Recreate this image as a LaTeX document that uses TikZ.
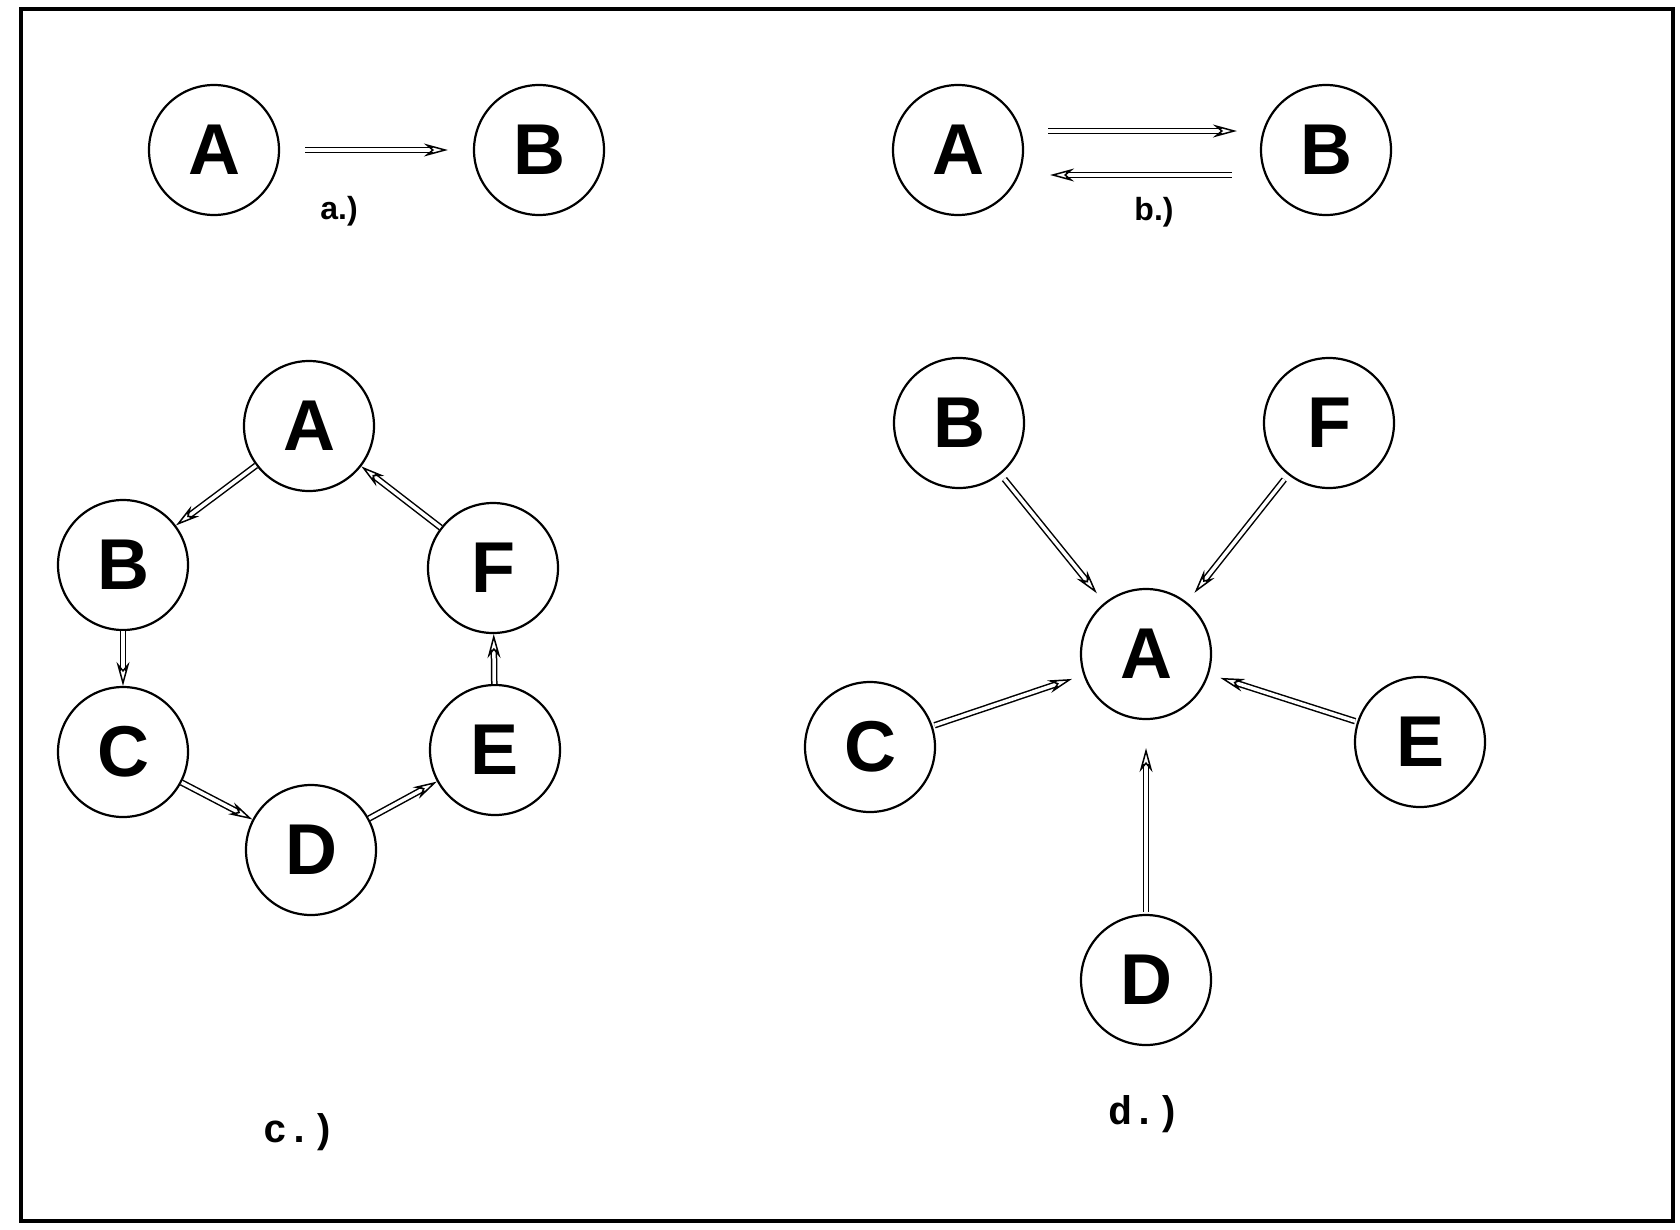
\documentclass[tikz,border=0pt]{standalone}
\usepackage{fontspec}
\setsansfont{Liberation Sans}
\setmonofont{Liberation Mono}
\usetikzlibrary{arrows.meta}
\begin{document}
\begin{tikzpicture}[x=1pt,y=-1pt,
  vtx/.style={circle,draw,line width=2.2pt,minimum size=130pt,inner sep=0pt,
    font=\fontsize{72}{72}\selectfont\sffamily\bfseries},
  conn/.style={draw,double=white,double distance=3.5pt,line width=1.5pt,
    -{Stealth[open,length=24pt,width=13pt,line width=1.5pt]}},
  sublab/.style={font=\fontsize{32}{32}\selectfont\sffamily\bfseries},
  monolab/.style={font=\fontsize{40}{40}\selectfont\ttfamily\bfseries}]
\useasboundingbox (0,0) rectangle (1680,1229);
\fill[white] (0,0) rectangle (1680,1229);
\draw[line width=4pt] (21,9) rectangle (1673,1221);
% a)
\node[vtx] (aA) at (214,150) {A};
\node[vtx] (aB) at (539,150) {B};
\draw[conn,shorten <=25pt,shorten >=25pt] (aA) -- (aB);
\node[sublab] (la) at (339,211) {a.)};
% b)
\node[vtx] (bA) at (958,150) {A};
\node[vtx] (bB) at (1326,150) {B};
\draw[conn,shorten <=24pt,shorten >=23pt] ([yshift=19pt]bA.east) -- ([yshift=19pt]bB.west);
\draw[conn,shorten <=28pt,shorten >=26pt] ([yshift=-25pt]bB.west) -- ([yshift=-25pt]bA.east);
\node[sublab] (lb) at (1154,212) {b.)};
% c)
\node[vtx] (cA) at (309,426) {A};
\node[vtx] (cB) at (123,565) {B};
\node[vtx] (cF) at (493,568) {F};
\node[vtx] (cC) at (123,752) {C};
\node[vtx] (cE) at (495,750) {E};
\node[vtx] (cD) at (311,850) {D};
\draw[conn] (cA) -- (cB);
\draw[conn] (cB) -- (cC);
\draw[conn] (cC) -- (cD);
\draw[conn] (cD) -- (cE);
\draw[conn] (cE) -- (cF);
\draw[conn] (cF) -- (cA);
\node[monolab] (lc) at (300,1132) {c.)};
% d)
\node[vtx] (dB) at (959,423) {B};
\node[vtx] (dF) at (1329,423) {F};
\node[vtx] (dA) at (1146,654) {A};
\node[vtx] (dC) at (870,747) {C};
\node[vtx] (dE) at (1420,742) {E};
\node[vtx] (dD) at (1146,980) {D};
\draw[conn,shorten <=6pt,shorten >=12pt] (dB) -- (dA);
\draw[conn,shorten <=6pt,shorten >=12pt] (dF) -- (dA);
\draw[conn,shorten <=2pt,shorten >=12pt] (dC) -- (dA);
\draw[conn,shorten <=2pt,shorten >=12pt] (dE) -- (dA);
\draw[conn,shorten <=2pt,shorten >=28pt] (dD) -- (dA);
\node[monolab] (ld) at (1144,1114) {d.)};
\end{tikzpicture}
\end{document}
